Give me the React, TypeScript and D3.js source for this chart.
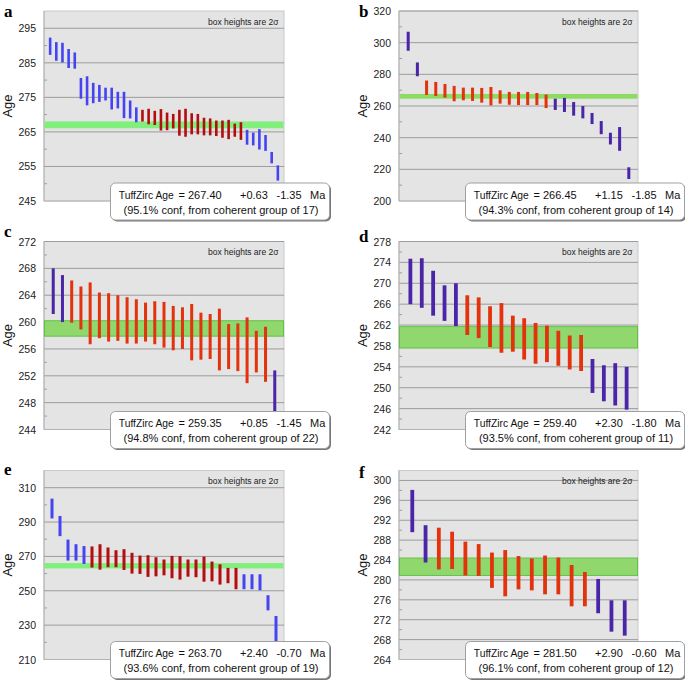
import React from "react";
import * as d3 from "d3";

// ---------- data ----------
const aHigh = [292.3, 291.0, 290.8, 289.0, 288.0, 280.6, 281.1, 279.2, 278.6, 277.8, 277.8, 276.6, 276.6, 274.1, 272.1, 271.4, 271.7, 271.1, 271.6, 270.6, 270.2, 271.4, 271.7, 270.4, 270.2, 269.1, 268.9, 268.3, 268.3, 268.5, 267.4, 267.8, 265.6, 264.8, 265.8, 264.1, 259.2, 255.3];
const aLow = [287.3, 285.6, 285.1, 283.5, 283.3, 274.6, 272.7, 273.3, 273.7, 274.1, 271.5, 271.8, 269.0, 268.9, 267.8, 268.0, 267.2, 267.0, 265.4, 265.5, 266.0, 263.9, 263.6, 264.3, 264.3, 264.0, 264.0, 263.8, 263.3, 262.9, 263.6, 262.7, 261.3, 261.1, 259.9, 259.5, 255.9, 250.9];
const aGroup = [0,0,0,0,0,0,0,0,0,0,0,0,0,0,0,1,1,1,1,1,1,1,1,1,1,1,1,1,1,1,1,1,0,0,0,0,0,0];

const bHigh = [306.9, 287.5, 276.1, 275.2, 273.9, 272.7, 271.6, 271.6, 271.4, 272.0, 269.9, 268.9, 268.9, 268.9, 268.2, 267.2, 264.6, 265.1, 262.5, 260.0, 255.6, 250.5, 243.1, 246.7, 221.3];
const bLow = [294.9, 278.8, 267.0, 266.3, 265.3, 263.0, 263.6, 263.2, 262.1, 260.4, 261.5, 260.8, 260.6, 260.6, 260.6, 258.7, 257.5, 256.2, 253.9, 252.2, 248.6, 242.2, 235.7, 231.7, 213.9];
const bGroup = [0,0,1,1,1,1,1,1,1,1,1,1,1,1,1,1,0,0,0,0,0,0,0,0,0];

const cHigh = [268.0, 267.0, 266.2, 265.3, 265.9, 264.4, 264.3, 264.0, 263.7, 263.4, 262.9, 263.1, 263.0, 262.4, 262.2, 262.7, 261.4, 261.2, 262.0, 259.7, 259.8, 260.7, 258.7, 259.3, 252.8];
const cLow = [261.2, 260.0, 259.9, 258.9, 256.7, 257.6, 257.1, 257.2, 256.8, 256.8, 257.1, 256.7, 256.2, 255.8, 256.0, 254.3, 254.4, 254.5, 252.8, 253.0, 252.7, 250.9, 252.5, 251.1, 245.6];
const cGroup = [0,0,1,1,1,1,1,1,1,1,1,1,1,1,1,1,1,1,1,1,1,1,1,1,0];

const dHigh = [274.7, 274.8, 272.4, 269.6, 270.0, 267.7, 267.3, 265.6, 266.2, 263.8, 263.3, 262.4, 261.9, 260.9, 260.0, 260.1, 255.5, 254.3, 254.7, 254.0];
const dLow = [266.0, 265.3, 263.8, 262.8, 261.8, 260.1, 259.5, 257.8, 256.7, 256.9, 255.4, 254.6, 254.9, 254.2, 253.5, 253.2, 249.0, 247.4, 246.6, 245.8];
const dGroup = [0,0,0,0,0,1,1,1,1,1,1,1,1,1,1,1,0,0,0,0];

const eHigh = [303.6, 293.5, 279.8, 277.1, 276.0, 275.8, 277.1, 275.2, 273.6, 274.2, 272.1, 270.5, 270.7, 269.5, 268.2, 270.3, 270.1, 268.2, 268.2, 269.9, 267.0, 265.4, 263.3, 263.3, 259.6, 259.6, 259.6, 247.4, 235.3];
const eLow = [292.1, 281.8, 267.6, 267.6, 265.6, 263.5, 262.3, 263.7, 263.7, 262.1, 260.0, 259.8, 258.1, 258.4, 259.0, 257.3, 256.5, 258.2, 257.9, 255.3, 255.5, 253.6, 254.4, 250.9, 250.9, 250.9, 250.3, 238.6, 220.5];
const eGroup = [0,0,0,0,0,1,1,1,1,1,1,1,1,1,1,1,1,1,1,1,1,1,1,1,0,0,0,0,0];

const fHigh = [298.1, 291.0, 290.5, 289.7, 287.7, 287.2, 285.5, 286.0, 284.8, 284.3, 284.9, 284.5, 283.0, 281.6, 280.2, 275.9, 275.9];
const fLow = [289.6, 283.5, 282.1, 282.2, 280.9, 280.8, 278.4, 276.7, 278.1, 277.9, 277.1, 277.1, 274.7, 274.7, 273.3, 269.6, 268.8];
const fGroup = [0,0,1,1,1,1,1,1,1,1,1,1,1,1,0,0,0];

const panelLetters = ["a", "b", "c", "d", "e", "f"];
const tuffAges = ["267.40", "266.45", "259.35", "259.40", "263.70", "281.50"];
const tuffPlus = ["0.63", "1.15", "0.85", "2.30", "2.40", "2.90"];
const tuffMinus = ["1.35", "1.85", "1.45", "1.80", "0.70", "0.60"];
const tuffConf = ["95.1", "94.3", "94.8", "93.5", "93.6", "96.1"];
const tuffN = [17, 14, 22, 11, 19, 12];

const yDomains = [[245, 300], [200, 320], [244, 272], [242, 278], [210, 320], [264, 302]];
const yLabels = [
  [245, 255, 265, 275, 285, 295],
  [200, 220, 240, 260, 280, 300, 320],
  [244, 248, 252, 256, 260, 264, 268, 272],
  [242, 246, 250, 254, 258, 262, 266, 270, 274, 278],
  [210, 230, 250, 270, 290, 310],
  [264, 268, 272, 276, 280, 284, 288, 292, 296, 300],
];
const yMinor = [
  [250, 260, 270, 280, 290],
  [210, 230, 250, 270, 290, 310],
  [246, 250, 254, 258, 262, 266, 270],
  [244, 248, 252, 256, 260, 264, 268, 272, 276],
  [220, 240, 260, 280, 300],
  [266, 270, 274, 278, 282, 286, 290, 294, 298],
];

const highs = [aHigh, bHigh, cHigh, dHigh, eHigh, fHigh];
const lows = [aLow, bLow, cLow, dLow, eLow, fLow];
const groups = [aGroup, bGroup, cGroup, dGroup, eGroup, fGroup];

// ---------- styling / layout ----------
const FONT = "'Liberation Sans', Arial, Helvetica, sans-serif";
const COLS = [[44, 284], [399, 638]];
const ROWS = [[11, 201], [241.5, 429.5], [470.5, 659.5]];
const schemes = [
  { out: "#4444f2", grp: "#b30d0d", band: "#80ef7c", bandStroke: "none" },
  { out: "#4b25a8", grp: "#e2330c", band: "#8edb62", bandStroke: "none" },
  { out: "#4b25a8", grp: "#e2330c", band: "#90d86e", bandStroke: "#63c048" },
  { out: "#4b25a8", grp: "#e2330c", band: "#90d86e", bandStroke: "#63c048" },
  { out: "#4444f2", grp: "#b30d0d", band: "#80ef7c", bandStroke: "none" },
  { out: "#4b25a8", grp: "#e2330c", band: "#90d86e", bandStroke: "#63c048" },
];
const barWidths = [2.6, 3, 3, 3.8, 3, 3.8];
const letterBaselines = [17, 17, 237, 242, 475, 478];

function Panel({ idx }: { idx: number }) {
  const col = COLS[idx % 2];
  const row = ROWS[Math.floor(idx / 2)];
  const [x0, x1] = col;
  const [y0, y1] = row;
  const hi = highs[idx];
  const lo = lows[idx];
  const grp = groups[idx];
  const n = hi.length;
  const sc = schemes[idx];
  const x = d3.scaleLinear().domain([0, n + 1]).range([x0, x1]);
  const y = d3.scaleLinear().domain(yDomains[idx]).range([y1, y0]);
  const age = +tuffAges[idx];
  const bandTop = y(age + +tuffPlus[idx]);
  const bandBot = y(age - +tuffMinus[idx]);
  const bw = barWidths[idx];
  const bx = x0 + 66.5;
  const by = y1 - 18;
  const bW = 219;
  const bH = 37;
  const clipId = `clip${idx}`;
  return (
    <g>
      <defs>
        <clipPath id={clipId}>
          <rect x={x0} y={y0} width={x1 - x0} height={y1 - y0} />
        </clipPath>
      </defs>
      <rect x={x0} y={y0} width={x1 - x0} height={y1 - y0} fill="#e4e4e4" stroke="#c9c9c9" strokeWidth={1} />
      {yLabels[idx].filter((v) => v > yDomains[idx][0]).map((v) => (
        <line key={"g" + v} x1={x0} x2={x1} y1={y(v)} y2={y(v)} stroke="#9c9c9c" strokeWidth={1} />
      ))}
      {yMinor[idx].map((v) => (
        <line key={"m" + v} x1={x0} x2={x0 + 3} y1={y(v)} y2={y(v)} stroke="#9c9c9c" strokeWidth={1} />
      ))}
      <line x1={x0} x2={x0} y1={y0} y2={y1} stroke="#b2b2b2" strokeWidth={1} />
      <line x1={x0} x2={x1} y1={y1} y2={y1} stroke="#b2b2b2" strokeWidth={1} />
      <rect x={x0 + 0.5} y={bandTop} width={x1 - x0 - 1} height={bandBot - bandTop} fill={sc.band} stroke={sc.bandStroke} strokeWidth={1} />
      <g clipPath={`url(#${clipId})`}>
        {hi.map((h, i) => (
          <rect key={i} x={x(i + 1) - bw / 2} y={y(h)} width={bw} height={y(lo[i]) - y(h)} fill={grp[i] ? sc.grp : sc.out} />
        ))}
      </g>
      {yLabels[idx].map((v) => (
        <text key={"t" + v} x={x0 - 8} y={y(v) + 4} textAnchor="end" fontFamily={FONT} fontSize={10.5} fill="#222">
          {v}
        </text>
      ))}
      <text transform={`translate(${x0 - 32},${(y0 + y1) / 2}) rotate(-90)`} textAnchor="middle" fontFamily={FONT} fontSize={13} fill="#111">
        Age
      </text>
      <text x={x0 - 40} y={letterBaselines[idx]} fontFamily="'Liberation Serif', 'Times New Roman', serif" fontWeight="bold" fontSize={17} fill="#000">
        {panelLetters[idx]}
      </text>
      <text x={x1 - 5.5} y={y0 + 13.5} textAnchor="end" fontFamily={FONT} fontSize={8.5} fill="#222">
        box heights are 2σ
      </text>
      <rect x={bx + 1.5} y={by + 1.5} width={bW} height={bH} rx={5} fill="#777" />
      <rect x={bx} y={by} width={bW} height={bH} rx={5} fill="#fff" stroke="#a0a0a0" strokeWidth={1} />
      <g fontFamily={FONT} fontSize={11} fill="#111">
        <text x={bx + 8.3} y={by + 15.6} textLength={55} lengthAdjust="spacingAndGlyphs">TuffZirc Age</text>
        <text x={bx + 68} y={by + 15.6}>{`= ${tuffAges[idx]}`}</text>
        <text x={bx + 129.5} y={by + 15.6}>{`+${tuffPlus[idx]}`}</text>
        <text x={bx + 166} y={by + 15.6}>{`-${tuffMinus[idx]}`}</text>
        <text x={bx + 199.5} y={by + 15.6}>Ma</text>
        <text x={bx + bW / 2 + 1} y={by + 30.8} textAnchor="middle">
          {`(${tuffConf[idx]}% conf, from coherent group of ${tuffN[idx]})`}
        </text>
      </g>
    </g>
  );
}

export default function App() {
  return (
    <svg width={685} height={681} style={{ position: "absolute", left: 0, top: 0, background: "#fff" }}>
      <rect x={0} y={0} width={685} height={681} fill="#fff" />
      {panelLetters.map((_, i) => (
        <Panel key={i} idx={i} />
      ))}
    </svg>
  );
}
